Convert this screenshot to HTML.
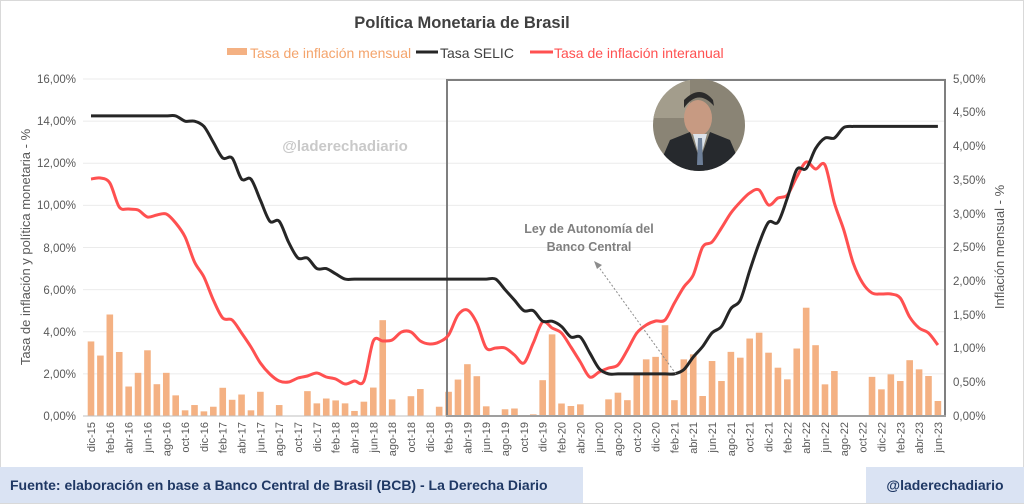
<!DOCTYPE html>
<html><head><meta charset="utf-8"><style>
html,body{margin:0;padding:0;background:#fff;}
svg{display:block;font-family:"Liberation Sans",Arial,sans-serif;}
</style></head><body>
<svg id="s" width="1024" height="504" viewBox="0 0 1024 504" xmlns="http://www.w3.org/2000/svg">
<rect x="0.5" y="0.5" width="1023" height="503" fill="#fff" stroke="#d9d9d9"/>
<text x="462" y="28" text-anchor="middle" font-size="16.5" font-weight="bold" fill="#404040">Política Monetaria de Brasil</text>
<rect x="227" y="48" width="20" height="7" fill="#F4B183"/>
<text x="250" y="58" font-size="14" fill="#F4A46C">Tasa de inflación mensual</text>
<line x1="416" y1="52" x2="438" y2="52" stroke="#262626" stroke-width="3"/>
<text x="440" y="58" font-size="14" fill="#404040">Tasa SELIC</text>
<line x1="530" y1="52" x2="553" y2="52" stroke="#FF5050" stroke-width="3"/>
<text x="554" y="58" font-size="14" fill="#FF5050">Tasa de inflación interanual</text>
<g id="grid" stroke="#ebebeb" stroke-width="1"></g>
<g font-size="11.5" fill="#595959" text-anchor="end">
<text x="76" y="420">0,00%</text><text x="76" y="378">2,00%</text><text x="76" y="336">4,00%</text><text x="76" y="294">6,00%</text><text x="76" y="252">8,00%</text><text x="76" y="209">10,00%</text><text x="76" y="167">12,00%</text><text x="76" y="125">14,00%</text><text x="76" y="83">16,00%</text>
</g>
<g font-size="11.5" fill="#595959">
<text x="953" y="420">0,00%</text><text x="953" y="386">0,50%</text><text x="953" y="352">1,00%</text><text x="953" y="319">1,50%</text><text x="953" y="285">2,00%</text><text x="953" y="251">2,50%</text><text x="953" y="218">3,00%</text><text x="953" y="184">3,50%</text><text x="953" y="150">4,00%</text><text x="953" y="116">4,50%</text><text x="953" y="83">5,00%</text>
</g>
<text transform="translate(30,247) rotate(-90)" text-anchor="middle" font-size="13" fill="#595959">Tasa de inflación y política monetaria - %</text>
<text transform="translate(1004,247) rotate(-90)" text-anchor="middle" font-size="13" fill="#595959">Inflación mensual - %</text>
<text x="345" y="151" text-anchor="middle" font-size="15" font-weight="bold" fill="#c9c9c9">@laderechadiario</text>
<g id="bars" fill="#F4B183"></g>
<rect x="447" y="80" width="498" height="336" fill="none" stroke="#7f7f7f" stroke-width="2"/>
<line x1="83" y1="416" x2="946" y2="416" stroke="#bfbfbf"/>
<path id="red" fill="none" stroke="#FF5050" stroke-width="3" stroke-linejoin="round"/>
<path id="blk" fill="none" stroke="#262626" stroke-width="3" stroke-linejoin="round"/>
<line x1="676" y1="374" x2="598" y2="266" stroke="#8c8c8c" stroke-width="1" stroke-dasharray="2,2"/>
<polygon points="594,261 602,265 597,269" fill="#8c8c8c"/>
<text x="589" y="233" text-anchor="middle" font-size="12.5" font-weight="bold" fill="#7f7f7f">Ley de Autonomía del</text>
<text x="589" y="251" text-anchor="middle" font-size="12.5" font-weight="bold" fill="#7f7f7f">Banco Central</text>
<defs><clipPath id="cc"><circle cx="699" cy="125" r="46"/></clipPath></defs>
<g clip-path="url(#cc)">
<rect x="650" y="78" width="100" height="95" fill="#8a8475"/>
<rect x="650" y="78" width="40" height="40" fill="#a39d8c"/>
<ellipse cx="698" cy="118" rx="14" ry="18" fill="#c79a82"/>
<path d="M684 108 Q698 88 714 106 L713 100 Q700 84 684 100Z" fill="#2a2a2a"/>
<path d="M655 175 L670 140 L690 132 L700 160 L710 132 L730 140 L745 175Z" fill="#26292d"/>
<path d="M693 134 L700 160 L707 134Z" fill="#dde3ea"/>
<path d="M698 138 L702 138 L703 165 L697 165Z" fill="#6d7f98"/>
</g>
<rect x="0" y="467" width="583" height="36" fill="#dae3f3"/>
<text x="10" y="490" font-size="14" font-weight="bold" fill="#1f3864">Fuente: elaboración en base a Banco Central de Brasil (BCB) - La Derecha Diario</text>
<rect x="866" y="467" width="158" height="36" fill="#dae3f3"/>
<text x="945" y="490" text-anchor="middle" font-size="14" font-weight="bold" fill="#1f3864">@laderechadiario</text>
<g font-size="11" fill="#595959" text-anchor="end">
<text transform="translate(95,422) rotate(-90)">dic-15</text>
<text transform="translate(113.8,422) rotate(-90)">feb-16</text>
<text transform="translate(132.6,422) rotate(-90)">abr-16</text>
<text transform="translate(151.5,422) rotate(-90)">jun-16</text>
<text transform="translate(170.3,422) rotate(-90)">ago-16</text>
<text transform="translate(189.1,422) rotate(-90)">oct-16</text>
<text transform="translate(207.9,422) rotate(-90)">dic-16</text>
<text transform="translate(226.7,422) rotate(-90)">feb-17</text>
<text transform="translate(245.6,422) rotate(-90)">abr-17</text>
<text transform="translate(264.4,422) rotate(-90)">jun-17</text>
<text transform="translate(283.2,422) rotate(-90)">ago-17</text>
<text transform="translate(302,422) rotate(-90)">oct-17</text>
<text transform="translate(320.8,422) rotate(-90)">dic-17</text>
<text transform="translate(339.7,422) rotate(-90)">feb-18</text>
<text transform="translate(358.5,422) rotate(-90)">abr-18</text>
<text transform="translate(377.3,422) rotate(-90)">jun-18</text>
<text transform="translate(396.1,422) rotate(-90)">ago-18</text>
<text transform="translate(414.9,422) rotate(-90)">oct-18</text>
<text transform="translate(433.8,422) rotate(-90)">dic-18</text>
<text transform="translate(452.6,422) rotate(-90)">feb-19</text>
<text transform="translate(471.4,422) rotate(-90)">abr-19</text>
<text transform="translate(490.2,422) rotate(-90)">jun-19</text>
<text transform="translate(509,422) rotate(-90)">ago-19</text>
<text transform="translate(527.9,422) rotate(-90)">oct-19</text>
<text transform="translate(546.7,422) rotate(-90)">dic-19</text>
<text transform="translate(565.5,422) rotate(-90)">feb-20</text>
<text transform="translate(584.3,422) rotate(-90)">abr-20</text>
<text transform="translate(603.1,422) rotate(-90)">jun-20</text>
<text transform="translate(622,422) rotate(-90)">ago-20</text>
<text transform="translate(640.8,422) rotate(-90)">oct-20</text>
<text transform="translate(659.6,422) rotate(-90)">dic-20</text>
<text transform="translate(678.4,422) rotate(-90)">feb-21</text>
<text transform="translate(697.2,422) rotate(-90)">abr-21</text>
<text transform="translate(716.1,422) rotate(-90)">jun-21</text>
<text transform="translate(734.9,422) rotate(-90)">ago-21</text>
<text transform="translate(753.7,422) rotate(-90)">oct-21</text>
<text transform="translate(772.5,422) rotate(-90)">dic-21</text>
<text transform="translate(791.3,422) rotate(-90)">feb-22</text>
<text transform="translate(810.2,422) rotate(-90)">abr-22</text>
<text transform="translate(829,422) rotate(-90)">jun-22</text>
<text transform="translate(847.8,422) rotate(-90)">ago-22</text>
<text transform="translate(866.6,422) rotate(-90)">oct-22</text>
<text transform="translate(885.4,422) rotate(-90)">dic-22</text>
<text transform="translate(904.3,422) rotate(-90)">feb-23</text>
<text transform="translate(923.1,422) rotate(-90)">abr-23</text>
<text transform="translate(941.9,422) rotate(-90)">jun-23</text>
</g>
</svg>
<script>
var NS="http://www.w3.org/2000/svg",X0=91,DX=9.41,Y0=416;
function X(i){return X0+i*DX;}
var g=document.getElementById("grid");
for(var k=1;k<=8;k++){var y=Y0-k*337/8;var l=document.createElementNS(NS,"line");l.setAttribute("x1",83);l.setAttribute("x2",946);l.setAttribute("y1",y);l.setAttribute("y2",y);g.appendChild(l);}
var L=[3.54,2.87,4.82,3.04,1.40,2.05,3.12,1.51,2.05,0.98,0.27,0.52,0.22,0.44,1.34,0.77,1.02,0.27,1.15,0,0.52,0,0,1.18,0.6,0.83,0.74,0.6,0.24,0.68,1.35,4.55,0.79,0,0.94,1.28,0,0.44,1.15,1.73,2.46,1.89,0.46,0,0.32];
var R=[0.09,0,0.02,.43,.98,.15,.12,.14,0,0,.2,.28,.19,.5,.68,.71,1.09,.19,.68,.74,.24,.66,.42,.77,.70,.93,1.0,.76,.58,.44,.81,1.3,.85,.38,.54,0,0,0,.47,.32,.5,.42,.67,.56,.48,.18];
var H=L.map(function(v){return v*21.06;}).concat(R.map(function(v){return v*83.3;}));
var b=document.getElementById("bars");
H.forEach(function(h,i){if(h<=0)return;var r=document.createElementNS(NS,"rect");r.setAttribute("x",X(i)-3.3);r.setAttribute("width",6.6);r.setAttribute("y",Y0-h);r.setAttribute("height",h);b.appendChild(r);});
var red=[179,178,183,207,209,210,217,215,214,223,237,262,277,300,318,320,333,347,363,374,381,382,378,376,373,377,379,384,381,381,341,341,340,332,332,341,344,342,335,315,310,323,348,348,348,355,363,343,322,328,333,347,362,377,372,368,365,350,333,325,321,320,303,287,275,247,242,228,213,202,193,190,205,198,195,177,162,169,165,203,230,263,283,293,294,294,298,317,328,333,345];
var sv=[];
for(var i=0;i<=9;i++)sv.push(14.25);
sv=sv.concat([14,14,13.75,13,12.25,12.25,11.25,11.25,10.25,9.25,9.25,8.25,7.5,7.5,7,7,6.75]);
while(sv.length<=43)sv.push(6.5);
sv=sv.concat([6,5.5,5,5,4.5,4.5,4.25,3.75,3.75,3,2.25]);
while(sv.length<=62)sv.push(2);
sv=sv.concat([2.2,2.8,3.3,3.95,4.25,5.1,5.5,6.9,8.2,9.2,9.2,10.35,11.7,11.75,12.7,13.2,13.2,13.7]);
while(sv.length<=90)sv.push(13.75);
var blk=sv.map(function(v){return Y0-v*21.06;});
function smooth(ys){var p=ys.map(function(y,i){return [X(i),y];});var d="M"+p[0][0]+","+p[0][1];
for(var i=0;i<p.length-1;i++){var p0=p[i-1]||p[i],p1=p[i],p2=p[i+1],p3=p[i+2]||p2;var t=0.16;
d+=" C"+(p1[0]+(p2[0]-p0[0])*t)+","+(p1[1]+(p2[1]-p0[1])*t)+" "+(p2[0]-(p3[0]-p1[0])*t)+","+(p2[1]-(p3[1]-p1[1])*t)+" "+p2[0]+","+p2[1];}return d;}
document.getElementById("red").setAttribute("d",smooth(red));
document.getElementById("blk").setAttribute("d",smooth(blk));
</script>
</body></html>
